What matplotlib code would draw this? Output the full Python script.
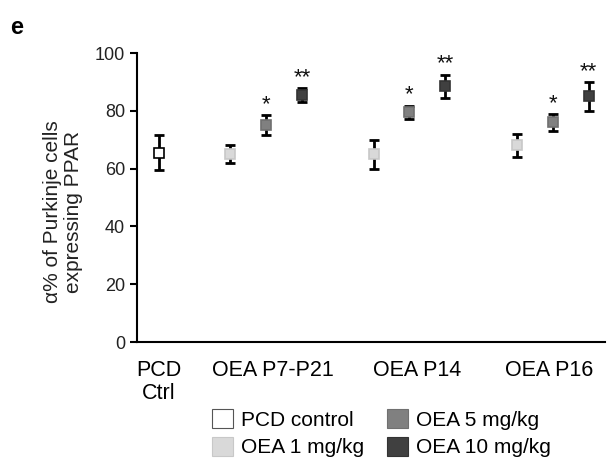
import matplotlib.pyplot as plt
from matplotlib.patches import Patch

plt.rcParams['font.family'] = ['Liberation Sans', 'DejaVu Sans']

# groups and treatments
groups = ['PCD\nCtrl', 'OEA P7-P21', 'OEA P14', 'OEA P16']
doses = ['PCD control', 'OEA 1 mg/kg', 'OEA 5 mg/kg', 'OEA 10 mg/kg']
dose_colors = ['white', '#d9d9d9', '#808080', '#404040']
dose_edges = ['black', '#c8c8c8', '#707070', '#333333']

# mean and error per point (control, then 1/5/10 mg/kg for each period)
ctrl_mean, ctrl_err = 65.5, 6.0
p7_21_mean = [65.0, 75.0, 85.5]
p7_21_err = [3.0, 3.5, 2.5]
p14_mean = [65.0, 79.5, 88.5]
p14_err = [5.0, 2.3, 4.0]
p16_mean = [68.0, 76.0, 85.0]
p16_err = [4.0, 3.0, 5.0]
signif = ['', '*', '**']

fig = plt.figure(figsize=(6.1, 4.65), dpi=100)
ax = fig.add_axes([0.2246, 0.2645, 0.767, 0.6215])

def draw_point(x, m, e, idx):
    ax.errorbar(x, m, yerr=e, fmt='none', ecolor='black', elinewidth=2,
                capsize=3.6, capthick=2, zorder=2)
    ax.plot(x, m, marker='s', markersize=7.5, markerfacecolor=dose_colors[idx],
            markeredgecolor=dose_edges[idx], markeredgewidth=1.2,
            linestyle='none', zorder=3)

draw_point(0, ctrl_mean, ctrl_err, 0)

centers = [3, 7, 11]
for c, means, errs in zip(centers, [p7_21_mean, p14_mean, p16_mean],
                          [p7_21_err, p14_err, p16_err]):
    for k in range(3):
        x = c - 1 + k
        draw_point(x, means[k], errs[k], k + 1)
        if signif[k]:
            ax.annotate(signif[k], (x, means[k] + errs[k]), xytext=(0, 0),
                        textcoords='offset points', ha='center', va='bottom',
                        fontsize=16, color='#111111')

ax.set_xlim(-0.6, 12.45)
ax.set_ylim(0, 100)
ax.set_yticks([0, 20, 40, 60, 80, 100])
# group labels sit slightly right of the group centres
ax.set_xticks([0, 3.2, 7.2, 10.9])
ax.set_xticklabels(groups, fontsize=15.5, linespacing=1.1)
ax.tick_params(axis='x', length=0, pad=13)
ax.tick_params(axis='y', labelsize=13, length=5, width=1.5, direction='out',
               labelcolor='#222222')
for s in ['top', 'right']:
    ax.spines[s].set_visible(False)
for s in ['left', 'bottom']:
    ax.spines[s].set_linewidth(1.5)

ax.set_ylabel('α% of Purkinje cells\nexpressing PPAR', fontsize=15,
              color='#222222', linespacing=1.15)
ax.yaxis.set_label_coords(-0.115, 0.45)

handles = [Patch(facecolor=dose_colors[i], edgecolor=dose_edges[i] if i else '#555555',
                 linewidth=0.8) for i in range(4)]
fig.legend(handles, doses, ncol=2, loc='upper left', bbox_to_anchor=(0.347, 0.12),
           frameon=False, fontsize=15, handlelength=1.0, handleheight=1.0,
           handletextpad=0.4, columnspacing=1.1, labelspacing=0.35,
           borderaxespad=0, borderpad=0)

fig.text(0.016, 0.965, 'e', fontsize=17, fontweight='bold', va='top')

fig.savefig('out.png', dpi=100)
